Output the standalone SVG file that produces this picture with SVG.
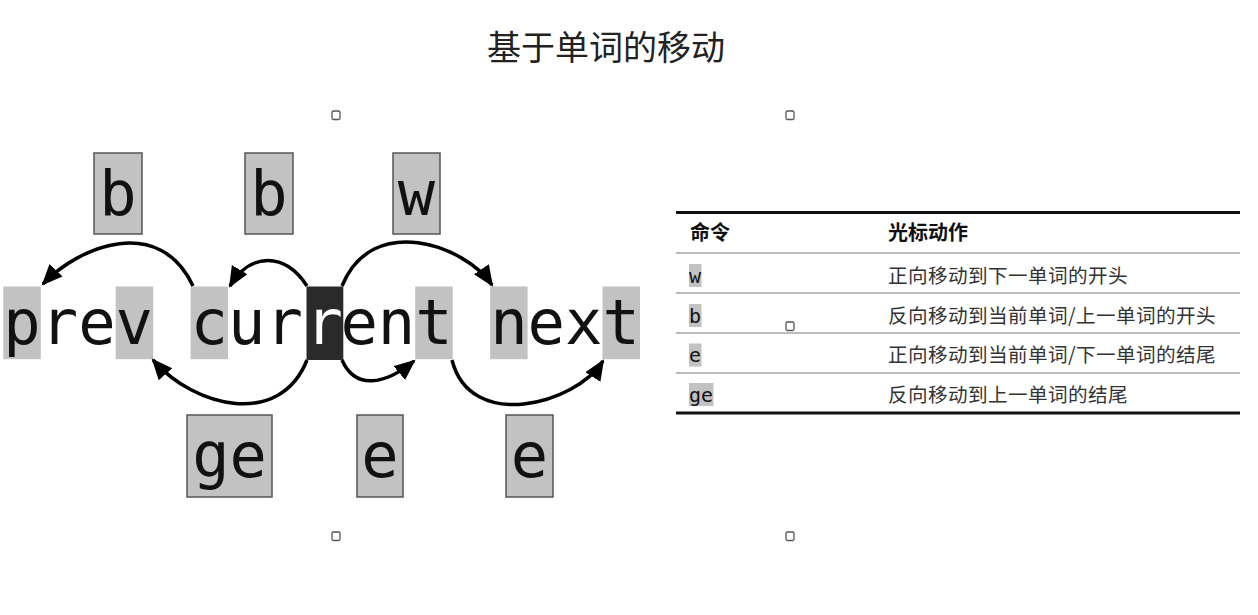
<svg xmlns="http://www.w3.org/2000/svg" width="1258" height="615" viewBox="0 0 1258 615">
<defs>
<style>
.mono{font-family:"DejaVu Sans Mono","Liberation Mono",monospace;fill:#111}
.big{font-size:62.2px}
.lab{font-size:62px;text-anchor:middle}
.hl{fill:#c2c2c2}
.lbox{fill:#c2c2c2;stroke:#555;stroke-width:1.5}
.cjk{font-family:"Noto Sans CJK SC","Noto Sans",sans-serif}
.hdr{font-size:20px;font-weight:bold;fill:#111}
.desc{font-size:19.6px;fill:#333;letter-spacing:0.4px}
.cmd{font-size:20px}
.arc{fill:none;stroke:#000;stroke-width:3.5}
.handle{fill:#fff;stroke:#555;stroke-width:1.3}
.thin{stroke:#bdbdbd;stroke-width:2}
.thick{stroke:#111;stroke-width:3.2}
</style>
<marker id="ah" markerUnits="userSpaceOnUse" markerWidth="24" markerHeight="20" refX="19" refY="9" orient="auto">
<path d="M0,0 L21,9 L0,18 Z" fill="#000"/>
</marker>
</defs>
<rect width="1258" height="615" fill="#fff"/>

<text id="title" class="cjk" x="606" y="60" font-size="34" text-anchor="middle" fill="#222">基于单词的移动</text>

<g id="word-line">
<rect class="hl" x="3.3" y="286.5" width="37.5" height="72.7"/>
<rect class="hl" x="115.7" y="286.5" width="37.5" height="72.7"/>
<rect class="hl" x="190.6" y="286.5" width="37.5" height="72.7"/>
<rect x="306.5" y="286.5" width="36.8" height="73.5" fill="#2a2a2a"/>
<rect class="hl" x="415.2" y="286.5" width="37.5" height="72.7"/>
<rect class="hl" x="490.1" y="286.5" width="37.5" height="72.7"/>
<rect class="hl" x="602.5" y="286.5" width="37.5" height="72.7"/>
<text class="mono big" x="3.3" y="344">prev cur<tspan x="305.5" fill="#fff">r</tspan><tspan x="340.4">ent next</tspan></text>
</g>

<g id="label-b1"><rect class="lbox" x="94" y="153" width="48" height="81"/><text class="mono lab" x="118" y="215">b</text></g>
<g id="label-b2"><rect class="lbox" x="245" y="153" width="48" height="81"/><text class="mono lab" x="269" y="215">b</text></g>
<g id="label-w"><rect class="lbox" x="393" y="153" width="47" height="81"/><text class="mono lab" x="416.5" y="215">w</text></g>
<g id="label-ge"><rect class="lbox" x="187" y="415" width="85" height="82"/><text class="mono lab" x="229.5" y="477">ge</text></g>
<g id="label-e1"><rect class="lbox" x="357" y="415" width="46" height="82"/><text class="mono lab" x="380" y="477">e</text></g>
<g id="label-e2"><rect class="lbox" x="506" y="415" width="47" height="82"/><text class="mono lab" x="529.5" y="477">e</text></g>

<g id="connectors">
<path class="arc" d="M193,286 C160,215 80,245 43,284" marker-end="url(#ah)"/>
<path class="arc" d="M307,286 C285,252 250,252 230,286" marker-end="url(#ah)"/>
<path class="arc" d="M342,286 C372,212 465,245 492,285" marker-end="url(#ah)"/>
<path class="arc" d="M307,360 C280,428 195,408 153,360" marker-end="url(#ah)"/>
<path class="arc" d="M342,360 C355,390 385,385 414,361" marker-end="url(#ah)"/>
<path class="arc" d="M452,360 C470,432 575,405 603,361" marker-end="url(#ah)"/>
</g>

<g id="table">
<line class="thick" x1="676" y1="212.5" x2="1240" y2="212.5"/>
<line class="thin" x1="676" y1="253" x2="1240" y2="253"/>
<line class="thin" x1="676" y1="293" x2="1240" y2="293"/>
<line class="thin" x1="676" y1="333" x2="1240" y2="333"/>
<line class="thin" x1="676" y1="373" x2="1240" y2="373"/>
<line class="thick" x1="676" y1="413" x2="1240" y2="413"/>
<text class="cjk hdr" x="690" y="240">命令</text>
<text class="cjk hdr" x="888" y="240">光标动作</text>
<rect class="hl" x="689" y="264" width="12.5" height="23"/>
<rect class="hl" x="689" y="304" width="12.5" height="23"/>
<rect class="hl" x="689" y="343.5" width="12.5" height="23"/>
<rect class="hl" x="689" y="383" width="24.5" height="23"/>
<text class="mono cmd" x="689" y="283">w</text>
<text class="mono cmd" x="689" y="322.5">b</text>
<text class="mono cmd" x="689" y="362">e</text>
<text class="mono cmd" x="689" y="401.5">ge</text>
<text class="cjk desc" x="888" y="283">正向移动到下一单词的开头</text>
<text class="cjk desc" x="888" y="322.5">反向移动到当前单词/上一单词的开头</text>
<text class="cjk desc" x="888" y="362">正向移动到当前单词/下一单词的结尾</text>
<text class="cjk desc" x="888" y="401.5">反向移动到上一单词的结尾</text>
</g>

<g id="handles">
<rect class="handle" x="332" y="111" width="8" height="8.5" rx="1.5"/>
<rect class="handle" x="786" y="111" width="8" height="8.5" rx="1.5"/>
<rect class="handle" x="786" y="322" width="8" height="8.5" rx="1.5"/>
<rect class="handle" x="332" y="532" width="8" height="8.5" rx="1.5"/>
<rect class="handle" x="786" y="532" width="8" height="8.5" rx="1.5"/>
</g>
</svg>
